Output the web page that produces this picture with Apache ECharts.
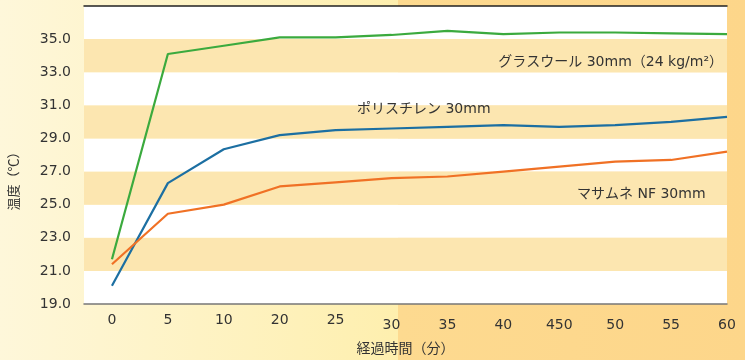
<!DOCTYPE html>
<html>
<head>
<meta charset="utf-8">
<script src="https://cdn.jsdelivr.net/npm/echarts@6/dist/echarts.min.js"></script>
<style>
  html, body { margin: 0; padding: 0; }
  #chart {
    width: 745px; height: 360px;
    background: linear-gradient(to right, #FEF7DA 0px, #FEEFAE 398px, #FDDA90 398px, #FDD68A 745px);
  }
</style>
</head>
<body>
<div id="chart"></div>
<script>
// 経過時間（分） — the "450" label is as printed in the original
const categories = ['0', '5', '10', '20', '25', '30', '35', '40', '450', '50', '55', '60'];
const glassWool = [21.7, 34.1, 34.6, 35.1, 35.1, 35.25, 35.5, 35.3, 35.4, 35.4, 35.35, 35.3];
const polystyrene = [20.1, 26.3, 28.35, 29.2, 29.5, 29.6, 29.7, 29.8, 29.7, 29.8, 30.0, 30.3];
const masamune = [21.4, 24.45, 25.0, 26.1, 26.35, 26.6, 26.7, 27.0, 27.3, 27.6, 27.7, 28.2];

const cjk = 'Noto Sans CJK JP';
const mixed = '"DejaVu Sans", "Noto Sans CJK JP"';

function toPoints(arr) {
    return arr.map((v, i) => [i, v]);
}

function label(text, pos) {
    return Object.assign({
        type: 'text',
        z: 10,
        style: { text: text, fontSize: 14, fontFamily: mixed, fill: '#333' }
    }, pos);
}

let myChart = echarts.init(document.getElementById('chart'));
myChart.setOption({
    animation: false,
    textStyle: { fontFamily: cjk, color: '#333' },
    grid: { left: 84, right: 18, top: 6, bottom: 56, outerBoundsMode: 'none', containLabel: false },
    xAxis: [{
        type: 'value',
        min: -0.5,
        max: 11,
        name: '経過時間（分）',
        nameLocation: 'middle',
        nameGap: 37,
        nameTextStyle: { fontSize: 14, color: '#333', fontFamily: cjk },
        axisLine: { show: true, lineStyle: { color: '#777', width: 1.5 } },
        axisTick: { show: false },
        splitLine: { show: false },
        axisLabel: {
            customValues: categories.map((c, i) => i),
            margin: 9,
            formatter: function (v) {
                const t = categories[v];
                return v >= 5 ? '{b|' + t + '}' : '{a|' + t + '}';
            },
            rich: {
                a: { fontSize: 14, color: '#333', fontFamily: 'DejaVu Sans' },
                b: { fontSize: 14, color: '#333', fontFamily: 'DejaVu Sans', padding: [5, 0, 0, 0] }
            }
        }
    }, {
        type: 'value',
        position: 'top',
        min: -0.5,
        max: 11,
        axisLine: { show: true, lineStyle: { color: '#222', width: 1.5 } },
        axisTick: { show: false },
        axisLabel: { show: false },
        splitLine: { show: false }
    }],
    yAxis: {
        type: 'value',
        min: 19,
        max: 37,
        interval: 2,
        name: '温度（℃）',
        nameLocation: 'middle',
        nameRotate: 90,
        nameGap: 64,
        nameTextStyle: { fontSize: 13, color: '#333', fontFamily: cjk, padding: [0, 46, 0, 0] },
        axisLine: { show: false },
        axisTick: { show: false },
        splitLine: { show: false },
        splitArea: {
            show: true,
            areaStyle: { color: ['#FFFFFF', '#FCE6B0'] }
        },
        axisLabel: {
            margin: 13,
            fontSize: 14,
            fontFamily: 'DejaVu Sans',
            color: '#333',
            formatter: function (v) {
                return v >= 37 ? '' : v.toFixed(1);
            }
        }
    },
    series: [{
        name: 'グラスウール 30mm（24 kg/m²）',
        type: 'line',
        data: toPoints(glassWool),
        symbol: 'none',
        lineStyle: { color: '#3BAA3E', width: 2.2 },
        z: 3
    }, {
        name: 'ポリスチレン 30mm',
        type: 'line',
        data: toPoints(polystyrene),
        symbol: 'none',
        lineStyle: { color: '#1C6FA2', width: 2.2 },
        z: 2
    }, {
        name: 'マサムネ NF 30mm',
        type: 'line',
        data: toPoints(masamune),
        symbol: 'none',
        lineStyle: { color: '#F07125', width: 2.2 },
        z: 4
    }],
    graphic: [
        label('グラスウール 30mm（24 kg/m²）', { right: 22, top: 55 }),
        label('ポリスチレン 30mm', { left: 357, top: 102 }),
        label('マサムネ NF 30mm', { left: 577, top: 187 })
    ]
});
</script>
</body>
</html>
